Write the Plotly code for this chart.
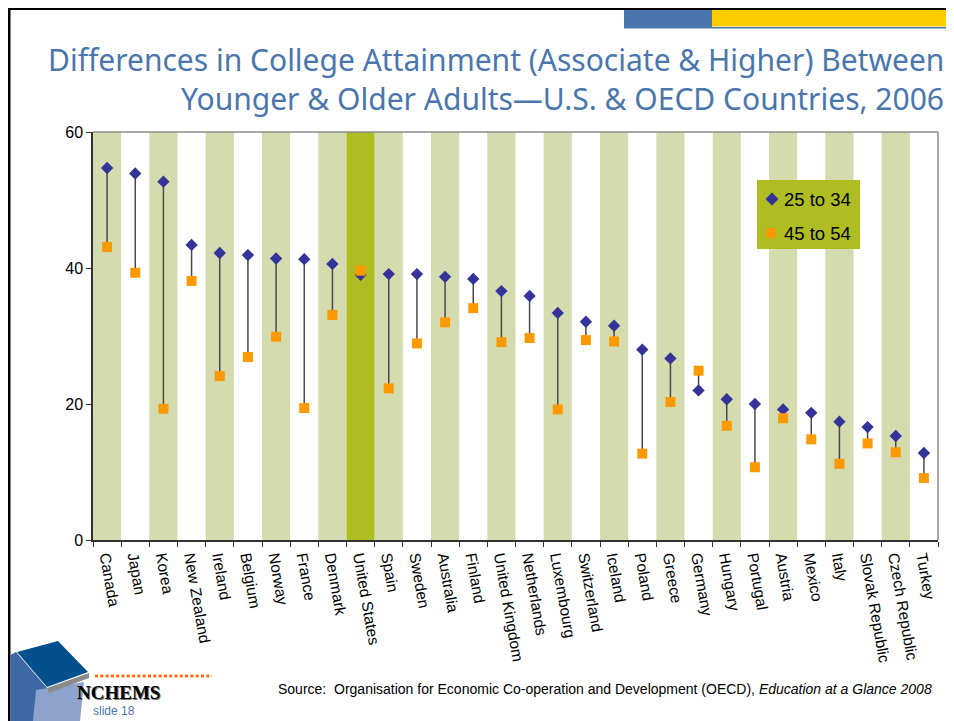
import plotly.graph_objects as go

countries = ["Canada", "Japan", "Korea", "New Zealand", "Ireland", "Belgium", "Norway",
             "France", "Denmark", "United States", "Spain", "Sweden", "Australia", "Finland",
             "United Kingdom", "Netherlands", "Luxembourg", "Switzerland", "Iceland", "Poland",
             "Greece", "Germany", "Hungary", "Portugal", "Austria", "Mexico", "Italy",
             "Slovak Republic", "Czech Republic", "Turkey"]
age_25_34 = [54.7, 53.9, 52.7, 43.4, 42.2, 41.9, 41.4, 41.3, 40.6, 39.0, 39.1, 39.1, 38.7, 38.4,
             36.6, 35.9, 33.4, 32.1, 31.5, 28.0, 26.7, 22.0, 20.7, 20.0, 19.2, 18.7, 17.4,
             16.6, 15.3, 12.8]
age_45_54 = [43.1, 39.3, 19.3, 38.1, 24.1, 26.9, 29.9, 19.4, 33.1, 39.6, 22.3, 28.9, 32.0, 34.1,
             29.1, 29.7, 19.2, 29.4, 29.2, 12.7, 20.3, 24.9, 16.8, 10.7, 17.9, 14.8, 11.2,
             14.2, 12.9, 9.1]
series_names = ["25 to 34", "45 to 54"]
highlight = "United States"

# the page puts the figure 8px in from the top-left corner
OFF = 8
W, H = 954 - OFF, 721 - OFF
ML, MR, MT, MB = 93 - OFF, 16, 132 - OFF, 181
PW, PH = W - ML - MR, H - MT - MB


def px(x):
    # screen pixel -> paper x
    return (x - OFF - ML) / PW


def py(y):
    # screen pixel -> paper y
    return (H - MB - (y - OFF)) / PH


BLUE = "#4A76AE"
GREEN = "#D4DBAE"
OLIVE = "#AFBD22"
DIAMOND = "#333399"
SQUARE = "#FF9900"

# connecting lines between the two age groups
line_x, line_y = [], []
for c, a, b in zip(countries, age_25_34, age_45_54):
    line_x += [c, c, None]
    line_y += [a, b, None]

fig = go.Figure()
fig.add_trace(go.Scatter(x=line_x, y=line_y, mode="lines", showlegend=False,
                         line=dict(color="#4a4a4a", width=1.5), hoverinfo="skip"))
fig.add_trace(go.Scatter(x=countries, y=age_25_34, mode="markers", name=series_names[0],
                         showlegend=False,
                         marker=dict(symbol="diamond", size=9.5, color=DIAMOND)))
fig.add_trace(go.Scatter(x=countries, y=age_45_54, mode="markers", name=series_names[1],
                         showlegend=False,
                         marker=dict(symbol="square", size=10, color=SQUARE)))

shapes = []
# alternating background bands
for i, c in enumerate(countries):
    if c == highlight:
        col = OLIVE
    elif i % 2 == 0:
        col = GREEN
    else:
        continue
    shapes.append(dict(type="rect", xref="x", yref="paper", x0=i - 0.5, x1=i + 0.5,
                       y0=0, y1=1, fillcolor=col, line_width=0, layer="below"))

# plot frame (top/right in grey)
shapes.append(dict(type="line", xref="paper", yref="paper", x0=0, x1=1, y0=1, y1=1,
                   line=dict(color="#8c8c8c", width=1.5)))
shapes.append(dict(type="line", xref="paper", yref="paper", x0=1, x1=1, y0=0, y1=1,
                   line=dict(color="#8c8c8c", width=1.5)))


def rect(x0, x1, y0, y1, color):
    return dict(type="rect", xref="paper", yref="paper", x0=px(x0), x1=px(x1),
                y0=py(y0), y1=py(y1), fillcolor=color, line_width=0)


def poly(points, color):
    d = "M " + " L ".join(f"{px(a):.5f},{py(b):.5f}" for a, b in points) + " Z"
    return dict(type="path", xref="paper", yref="paper", path=d, fillcolor=color, line_width=0)


# slide frame and header bars
shapes.append(rect(OFF, 954, OFF, 10, "black"))
shapes.append(rect(OFF, 10.5, OFF, 721, "black"))
shapes.append(rect(624, 712, 10, 28.5, BLUE))
shapes.append(rect(712, 954, 10, 26.5, "#FFCC00"))
shapes.append(rect(712, 954, 27, 28.5, BLUE))

# legend box
shapes.append(rect(757, 860, 180, 249, OLIVE))
shapes.append(poly([(772, 192.5), (778.5, 199), (772, 205.5), (765.5, 199)], DIAMOND))
shapes.append(rect(766, 776, 228, 238, SQUARE))

# logo blocks
shapes.append(poly([(10.5, 655), (16, 652), (47, 688), (40, 721), (10.5, 721)], "#3D67A5"))
shapes.append(poly([(36, 690), (84, 682), (80, 721), (33, 721)], "#8EA2CE"))
shapes.append(poly([(47, 688), (89, 673), (89, 678), (49, 693)], "#8a8a8a"))
shapes.append(poly([(17, 652), (58, 641), (88, 672), (47, 687)], "#03508F"))
shapes.append(dict(type="line", xref="paper", yref="paper", x0=px(95), x1=px(212), y0=py(676),
                   y1=py(676), line=dict(color="#FF6A13", width=3, dash="3px,2.3px")))

annotations = [
    dict(text="Differences in College Attainment (Associate & Higher) Between",
         x=px(946), y=py(60), xanchor="right", yanchor="middle",
         font=dict(family="Noto Sans", size=30, color=BLUE)),
    dict(text="Younger & Older Adults\u2014U.S. & OECD Countries, 2006",
         x=px(946), y=py(98), xanchor="right", yanchor="middle",
         font=dict(family="Noto Sans", size=30, color=BLUE)),
    dict(text=series_names[0], x=px(782), y=py(199), xanchor="left", yanchor="middle",
         font=dict(size=18.5, color="black")),
    dict(text=series_names[1], x=px(782), y=py(233), xanchor="left", yanchor="middle",
         font=dict(size=18.5, color="black")),
    dict(text="Source:  Organisation for Economic Co-operation and Development (OECD), "
              "<i>Education at a Glance 2008</i>",
         x=px(934), y=py(689), xanchor="right", yanchor="middle",
         font=dict(size=14, color="black")),
    dict(text="<b>NCHEMS</b>", x=px(119), y=py(693), xanchor="center", yanchor="middle",
         font=dict(family="Liberation Serif", size=19, color="#777777")),
    dict(text="<b>NCHEMS</b>", x=px(118), y=py(692), xanchor="center", yanchor="middle",
         font=dict(family="Liberation Serif", size=19, color="black")),
    dict(text="slide 18", x=px(91), y=py(711), xanchor="left", yanchor="middle",
         font=dict(size=12, color=BLUE)),
]
for a in annotations:
    a.update(xref="paper", yref="paper", showarrow=False)

fig.update_layout(
    width=W, height=H,
    margin=dict(l=ML, r=MR, t=MT, b=MB),
    paper_bgcolor="white", plot_bgcolor="white",
    font=dict(family="Liberation Sans, Arial, sans-serif", color="black"),
    shapes=shapes,
    annotations=annotations,
    showlegend=False,
)
fig.update_xaxes(type="category", range=[-0.5, len(countries) - 0.5], tickson="boundaries",
                 ticks="outside", ticklen=5, tickcolor="#333", showline=True, linecolor="#333",
                 linewidth=1.5, showgrid=False, tickangle=80, tickfont=dict(size=15.5))
fig.update_yaxes(range=[0, 60], dtick=20, ticks="outside", ticklen=5, tickcolor="#333",
                 showline=True, linecolor="#333", linewidth=1.5, showgrid=False, zeroline=False,
                 tickfont=dict(size=16))

fig.write_html("out.html")
